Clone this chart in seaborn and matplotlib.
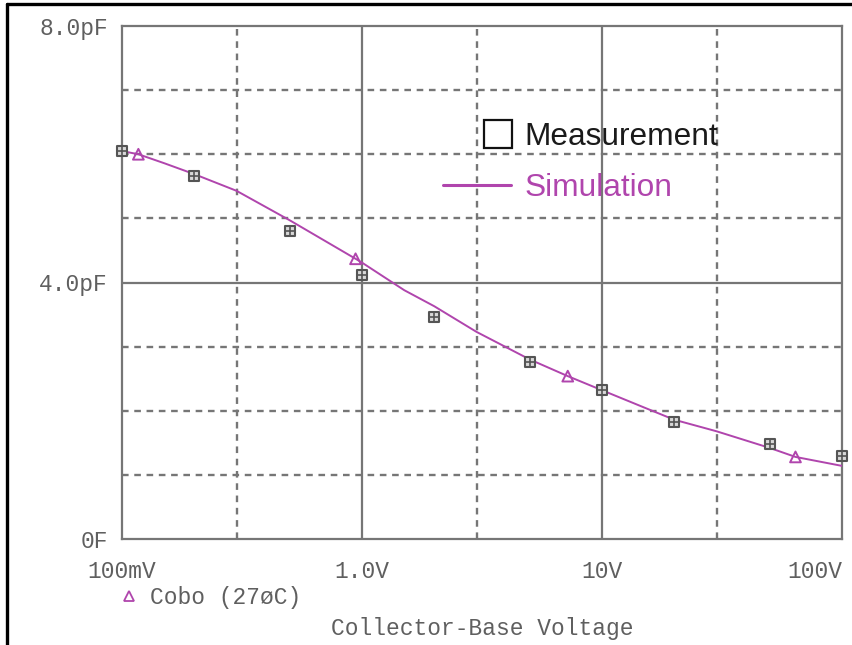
import numpy as np
import pandas as pd
import matplotlib
matplotlib.use("Agg")
import matplotlib.pyplot as plt
import seaborn as sns
from matplotlib.lines import Line2D

# ---------------- data ----------------
meas_v = [0.1, 0.2, 0.5, 1.0, 2.0, 5.0, 10.0, 20.0, 50.0, 100.0]
meas_c = [6.05, 5.66, 4.80, 4.12, 3.46, 2.76, 2.32, 1.82, 1.48, 1.29]

sim_v = [0.1, 0.117, 0.15, 0.2, 0.3, 0.5, 0.94, 1.0, 1.5, 2.0, 3.0,
         5.0, 7.2, 10.0, 15.0, 20.0, 30.0, 50.0, 64.0, 100.0]
sim_c = [6.05, 6.00, 5.86, 5.69, 5.43, 4.97, 4.37, 4.31, 3.88, 3.63, 3.23,
         2.80, 2.54, 2.32, 2.05, 1.86, 1.68, 1.42, 1.28, 1.14]

tri_v = [0.117, 0.94, 7.2, 64.0]
tri_c = [6.00, 4.37, 2.54, 1.28]

x_ticks = [0.1, 1.0, 10.0, 100.0]
x_ticklabels = ["100mV", "1.0V", "10V", "100V"]
y_ticks = [0, 4, 8]
y_ticklabels = ["0F", "4.0pF", "8.0pF"]

x_solid = [1.0, 10.0]
x_dashed = [0.3, 3.0, 30.0]
y_solid = [4.0]
y_dashed = [1, 2, 3, 5, 6, 7]

xlabel = "Collector-Base Voltage"
trace_label = "Cobo (27øC)"
leg_meas = "Measurement"
leg_sim = "Simulation"

# ---------------- style ----------------
sns.set_theme(style="white")
plt.rcParams["font.family"] = ["Liberation Mono", "DejaVu Sans Mono"]

W, H = 853, 645
fig = plt.figure(figsize=(W / 100, H / 100), dpi=100)
ax = fig.add_axes([122 / W, 106 / H, 720 / W, 513 / H])

GRID = "#767676"
TXT = "#5f5f5f"
MAG = "#b045ad"

ax.set_xscale("log")
ax.set_xlim(0.1, 100)
ax.set_ylim(0, 8)

for v in x_dashed:
    ax.axvline(v, color=GRID, lw=1.7, dashes=(2.8, 2.4), zorder=1)
for v in y_dashed:
    ax.axhline(v, color=GRID, lw=1.7, dashes=(2.8, 2.4), zorder=1)
for v in x_solid:
    ax.axvline(v, color=GRID, lw=1.6, zorder=1)
for v in y_solid:
    ax.axhline(v, color=GRID, lw=1.6, zorder=1)

sns.lineplot(x=sim_v, y=sim_c, ax=ax, color=MAG, lw=1.4, zorder=3)
sns.scatterplot(x=tri_v, y=tri_c, ax=ax, marker="^", s=60, facecolor="none",
                edgecolor=MAG, linewidth=1.4, zorder=4, clip_on=False)
sns.scatterplot(x=meas_v, y=meas_c, ax=ax, marker="s", s=55, color="#d8d8d8",
                edgecolor="#555555", linewidth=1.5, zorder=5, clip_on=False)
sns.scatterplot(x=meas_v, y=meas_c, ax=ax, marker="+", s=40, color="#555555",
                linewidth=1.2, zorder=6, clip_on=False)

for s in ax.spines.values():
    s.set_color(GRID)
    s.set_linewidth(1.6)
    s.set_visible(True)

ax.set_xticks(x_ticks)
ax.set_xticklabels(x_ticklabels)
ax.minorticks_off()
ax.set_yticks(y_ticks)
ax.set_yticklabels(y_ticklabels)
ax.tick_params(axis="both", direction="out", length=7, width=1.6, color=GRID,
               labelcolor=TXT, labelsize=16.5)
ax.tick_params(axis="x", pad=8)
ax.tick_params(axis="y", pad=3)
xl = ax.get_xticklabels()
xl[-1].set_horizontalalignment("right")
ax.set_xlabel("")
ax.set_ylabel("")

ax.text(0.5, -0.1735, xlabel, transform=ax.transAxes, ha="center", va="center",
        color=TXT, fontsize=16.5)

# trace legend under the axis
h_tr = Line2D([], [], ls="none", marker="^", markersize=7, markerfacecolor="none",
              markeredgecolor=MAG, markeredgewidth=1.3)
lg3 = ax.legend([h_tr], [trace_label], loc="center left",
                bbox_to_anchor=(-0.006, -0.115), frameon=False, borderpad=0,
                borderaxespad=0, handlelength=1.0, handletextpad=0.4,
                prop={"family": "Liberation Mono", "size": 16.5})
for t in lg3.get_texts():
    t.set_color(TXT)
ax.add_artist(lg3)

# measurement / simulation legend
h_m = Line2D([], [], ls="none", marker="s", markersize=20, markerfacecolor="none",
             markeredgecolor="#111111", markeredgewidth=1.6)
lg1 = ax.legend([h_m], [leg_meas], loc="center left",
                bbox_to_anchor=(0.5028, 0.7837), frameon=False, borderpad=0,
                borderaxespad=0, handlelength=0.88, handletextpad=0.41,
                prop={"family": "Liberation Sans", "size": 22.8})
for t in lg1.get_texts():
    t.set_color("#1a1a1a")
ax.add_artist(lg1)

h_s = Line2D([], [], color=MAG, lw=2.2)
lg2 = ax.legend([h_s], [leg_sim], loc="center left",
                bbox_to_anchor=(0.4458, 0.684), frameon=False, borderpad=0,
                borderaxespad=0, handlelength=2.15, handletextpad=0.44,
                prop={"family": "Liberation Sans", "size": 22.8})
for t in lg2.get_texts():
    t.set_color(MAG)

# figure border (top and left)
fig.add_artist(Line2D([7.5 / W, 1.0], [1 - 4 / H, 1 - 4 / H], color="black",
                      lw=2.4, transform=fig.transFigure))
fig.add_artist(Line2D([7.5 / W, 7.5 / W], [0.0, 1 - 4 / H], color="black",
                      lw=2.4, transform=fig.transFigure))

fig.savefig("out.png", dpi=100)
